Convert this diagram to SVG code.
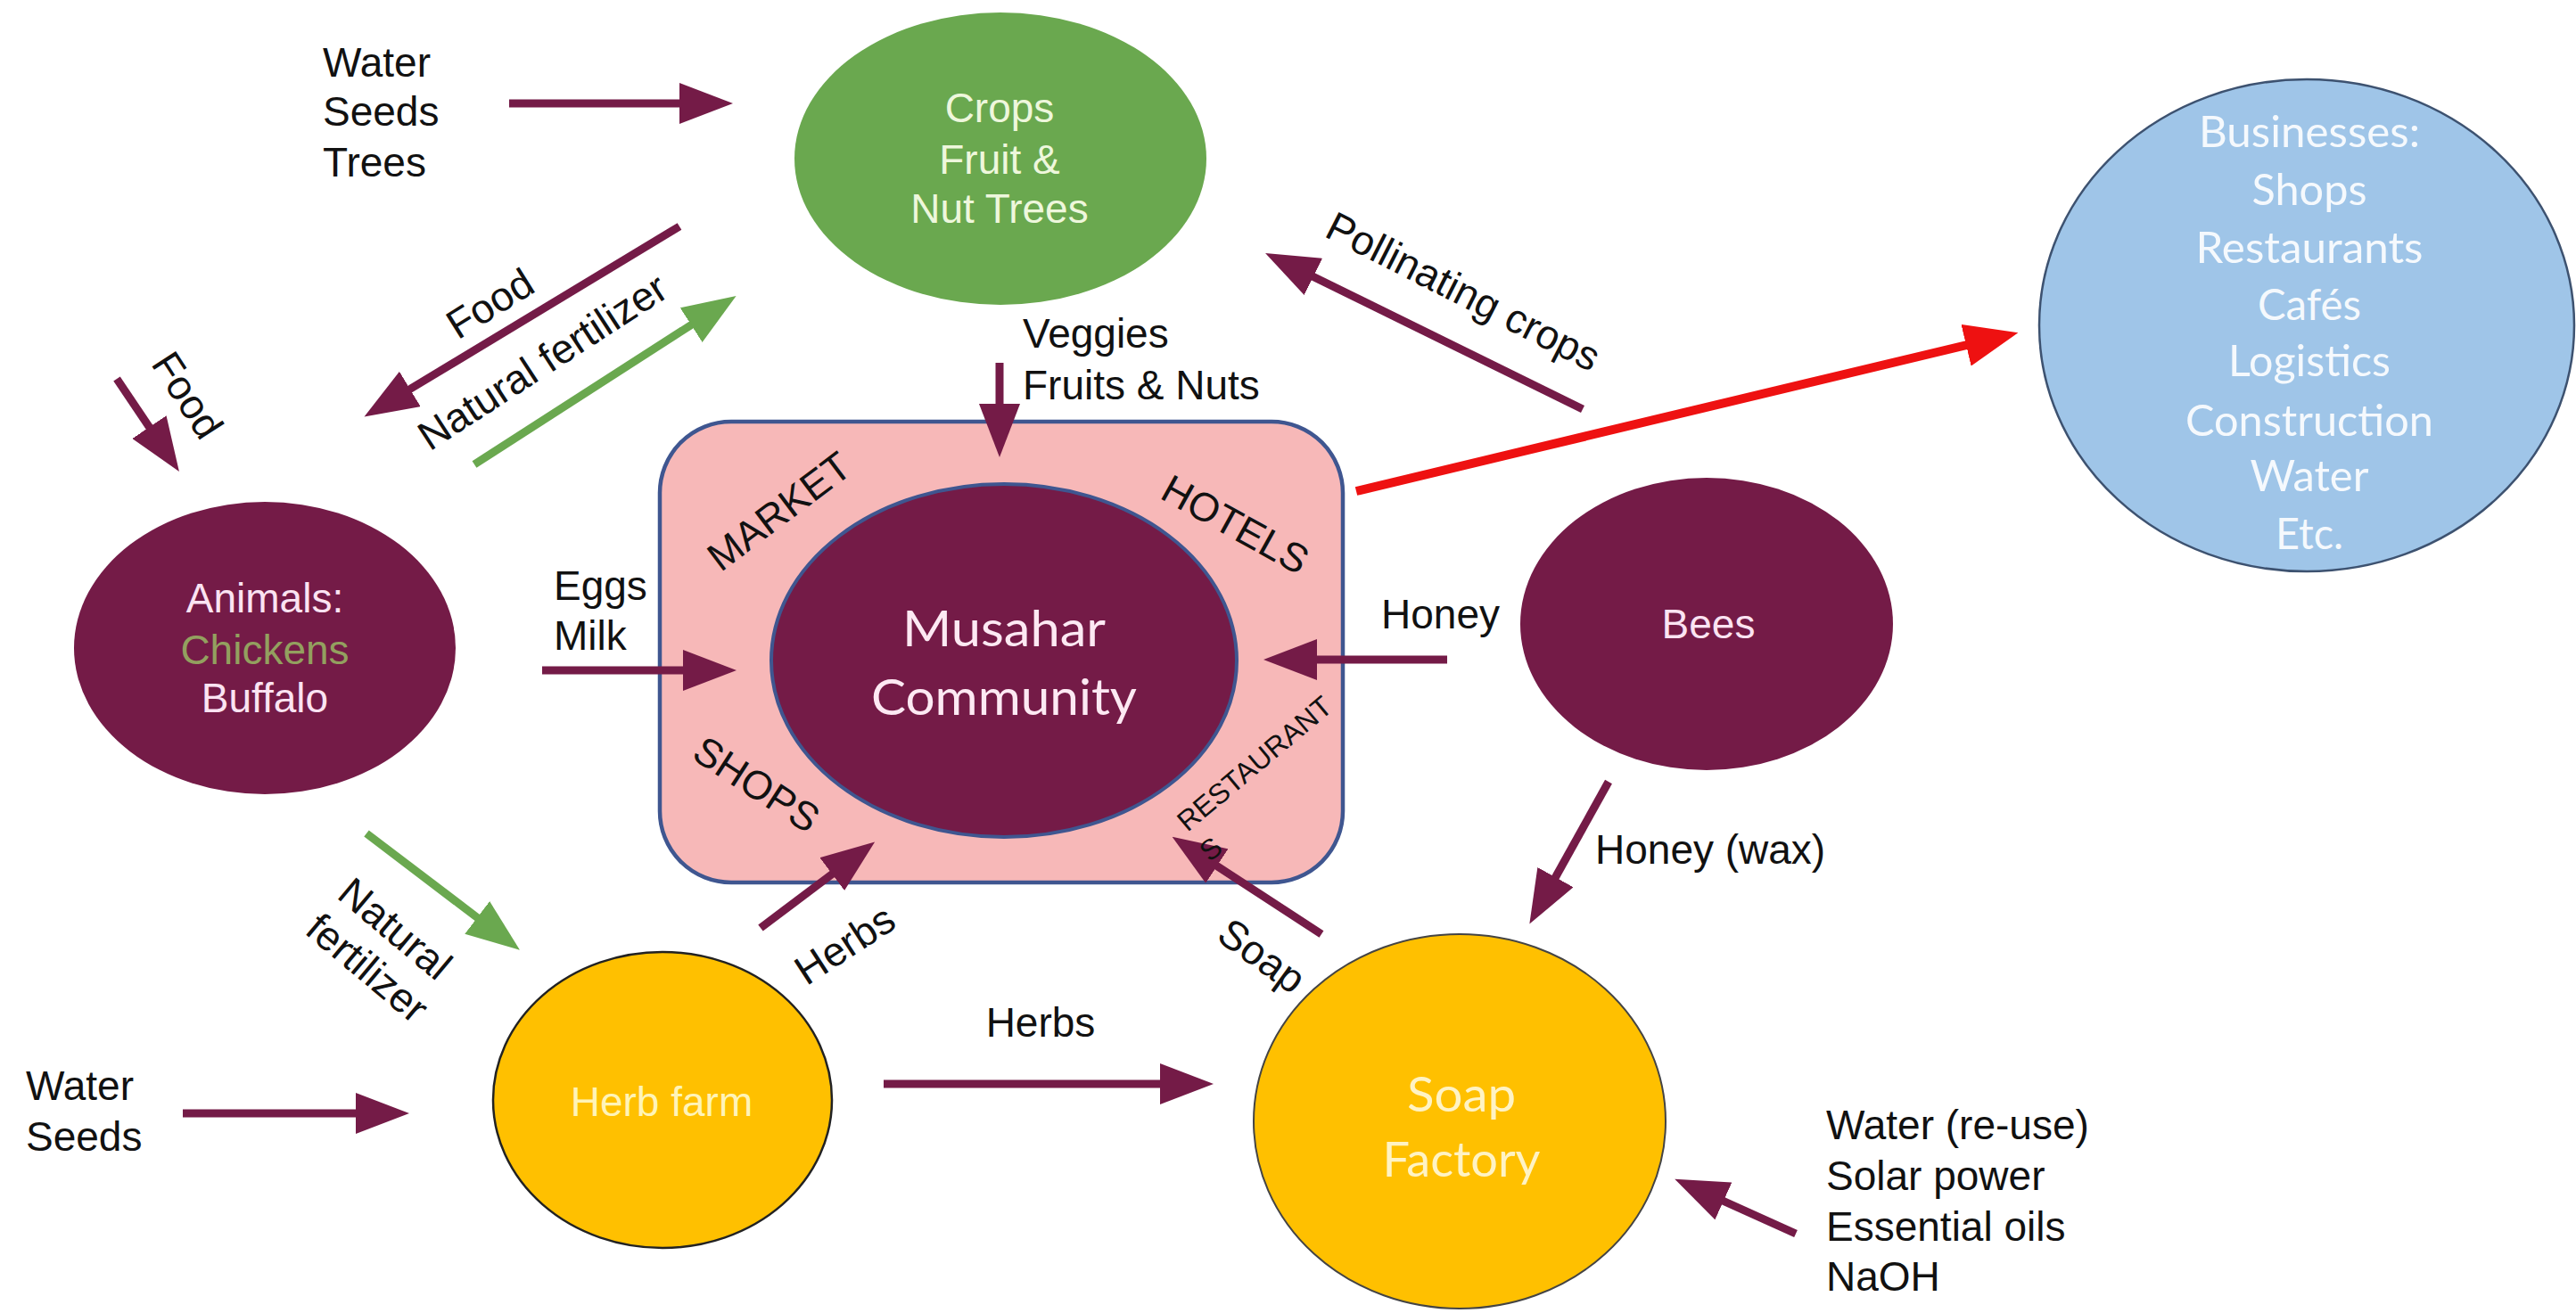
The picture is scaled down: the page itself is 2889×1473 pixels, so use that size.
<svg xmlns="http://www.w3.org/2000/svg" width="2889" height="1473" viewBox="0 0 2889 1473">
<style>
  .lbl { font-family: "Liberation Sans", Arial, sans-serif; font-size: 46px; }
  .dark { fill: #111; }
  .box { font-family: "Liberation Sans", Arial, sans-serif; font-size: 45px; fill: #111; }
  .cal { font-family: Lato, "Open Sans", sans-serif; }
  .mid { text-anchor: middle; }
  .ap { stroke: #741b47; stroke-width: 9; fill: none; marker-end: url(#hp); }
  .ag { stroke: #6aa84f; stroke-width: 9; fill: none; marker-end: url(#hg); }
  .ar { stroke: #ee1111; stroke-width: 10; fill: none; marker-end: url(#hr); }
</style>
<defs>
  <marker id="hp" markerUnits="userSpaceOnUse" markerWidth="60" markerHeight="46" viewBox="0 0 60 46" refX="1" refY="23" orient="auto"><path d="M0,0 L60,23 L0,46 z" fill="#741b47"/></marker>
  <marker id="hg" markerUnits="userSpaceOnUse" markerWidth="60" markerHeight="46" viewBox="0 0 60 46" refX="1" refY="23" orient="auto"><path d="M0,0 L60,23 L0,46 z" fill="#6aa84f"/></marker>
  <marker id="hr" markerUnits="userSpaceOnUse" markerWidth="60" markerHeight="48" viewBox="0 0 60 48" refX="1" refY="24" orient="auto"><path d="M0,0 L60,24 L0,48 z" fill="#ee1111"/></marker>
</defs>
<rect width="2889" height="1473" fill="#ffffff"/>

<g id="musahar-box">
  <rect x="740" y="473" width="766" height="517" rx="80" ry="80" fill="#f7b8b8" stroke="#3f5690" stroke-width="4.5"/>
</g>

<g id="musahar">
  <ellipse cx="1126" cy="741" rx="261" ry="198" fill="#741b47" stroke="#3f5690" stroke-width="4"/>
  <text class="cal mid" x="1126" y="725" font-size="57" fill="#fde9f3" textLength="228" lengthAdjust="spacingAndGlyphs">Musahar</text>
  <text class="cal mid" x="1126" y="802" font-size="57" fill="#fde9f3" textLength="298" lengthAdjust="spacingAndGlyphs">Community</text>
</g>

<g id="crops">
  <ellipse cx="1122" cy="178" rx="231" ry="164" fill="#6aa84f"/>
  <g class="lbl mid" fill="#eef7dc">
    <text x="1121" y="137">Crops</text>
    <text x="1121" y="195">Fruit &amp;</text>
    <text x="1121" y="250">Nut Trees</text>
  </g>
</g>

<g id="animals">
  <ellipse cx="297" cy="727" rx="214" ry="164" fill="#741b47"/>
  <text class="lbl mid" x="297" y="687" fill="#fbe3f2">Animals:</text>
  <text class="lbl mid" x="297" y="745" fill="#93a05f">Chickens</text>
  <text class="lbl mid" x="297" y="799" fill="#fbe3f2">Buffalo</text>
</g>

<g id="bees">
  <ellipse cx="1914" cy="700" rx="209" ry="164" fill="#741b47"/>
  <text class="lbl mid" x="1916" y="716" fill="#fbe3f2">Bees</text>
</g>

<g id="businesses">
  <ellipse cx="2587" cy="365" rx="300" ry="276" fill="#9fc5e8" stroke="#3d5270" stroke-width="2.5"/>
  <g class="cal mid" font-size="48" fill="#f5f9fd">
    <text x="2590" y="165" textLength="248" lengthAdjust="spacingAndGlyphs">Businesses:</text>
    <text x="2590" y="230" textLength="129" lengthAdjust="spacingAndGlyphs">Shops</text>
    <text x="2590" y="295" textLength="255" lengthAdjust="spacingAndGlyphs">Restaurants</text>
    <text x="2590" y="359" textLength="116" lengthAdjust="spacingAndGlyphs">Cafés</text>
    <text x="2590" y="422" textLength="182" lengthAdjust="spacingAndGlyphs">Logistics</text>
    <text x="2590" y="489" textLength="278" lengthAdjust="spacingAndGlyphs">Construction</text>
    <text x="2590" y="551" textLength="133" lengthAdjust="spacingAndGlyphs">Water</text>
    <text x="2590" y="616" textLength="76" lengthAdjust="spacingAndGlyphs">Etc.</text>
  </g>
</g>

<g id="herb-farm">
  <ellipse cx="743" cy="1234" rx="190" ry="166" fill="#ffc000" stroke="#222" stroke-width="2.5"/>
  <text class="lbl mid" x="742" y="1252" fill="#fff4b8">Herb farm</text>
</g>

<g id="soap-factory">
  <ellipse cx="1637" cy="1258" rx="231" ry="210" fill="#ffc000" stroke="#444" stroke-width="2"/>
  <text class="cal mid" x="1639" y="1247" font-size="54" fill="#fff3c4" textLength="122" lengthAdjust="spacingAndGlyphs">Soap</text>
  <text class="cal mid" x="1639" y="1320" font-size="54" fill="#fff3c4" textLength="177" lengthAdjust="spacingAndGlyphs">Factory</text>
</g>

<g id="inputs" class="lbl dark">
  <text x="362" y="86">Water</text>
  <text x="362" y="141">Seeds</text>
  <text x="362" y="198">Trees</text>
  <text x="29" y="1234">Water</text>
  <text x="29" y="1291">Seeds</text>
  <text x="2048" y="1278">Water (re-use)</text>
  <text x="2048" y="1335">Solar power</text>
  <text x="2048" y="1392">Essential oils</text>
  <text x="2048" y="1448">NaOH</text>
</g>

<g id="connectors">
  <line class="ap" x1="571" y1="116" x2="763" y2="116"/>
  <line class="ap" x1="762" y1="254" x2="459" y2="437"/>
  <line class="ag" x1="532" y1="521" x2="776" y2="364"/>
  <line class="ap" x1="131" y1="425" x2="168" y2="480"/>
  <line class="ap" x1="1121" y1="407" x2="1121" y2="454"/>
  <line class="ap" x1="1775" y1="459" x2="1472" y2="310"/>
  <line class="ar" x1="1521" y1="551" x2="2206" y2="387"/>
  <line class="ap" x1="608" y1="752" x2="767" y2="752"/>
  <line class="ap" x1="1623" y1="740" x2="1476" y2="740"/>
  <line class="ap" x1="1804" y1="877" x2="1744" y2="985"/>
  <line class="ap" x1="853" y1="1041" x2="934" y2="980"/>
  <line class="ap" x1="1482" y1="1048" x2="1364" y2="971"/>
  <line class="ag" x1="411" y1="935" x2="536" y2="1030"/>
  <line class="ap" x1="205" y1="1249" x2="400" y2="1249"/>
  <line class="ap" x1="991" y1="1216" x2="1302" y2="1216"/>
  <line class="ap" x1="2014" y1="1384" x2="1932" y2="1347"/>
</g>

<g id="musahar-box-labels">
  <text class="box mid" transform="translate(883,586) rotate(-37)">MARKET</text>
  <text class="box mid" transform="translate(1378,602) rotate(29)">HOTELS</text>
  <text class="box mid" transform="translate(840,893) rotate(33)">SHOPS</text>
  <text class="box mid" style="font-size:32px" transform="translate(1414,865) rotate(-40)">RESTAURANT</text>
  <text class="box mid" style="font-size:32px" transform="translate(1365,961) rotate(-40)">S</text>
</g>

<g id="connector-labels" class="lbl dark">
  <text class="mid" transform="translate(558,354) rotate(-32)">Food</text>
  <text class="mid" transform="translate(617,419) rotate(-33)">Natural fertilizer</text>
  <text class="mid" transform="translate(197,452) rotate(57)">Food</text>
  <text x="1147" y="390">Veggies</text>
  <text x="1147" y="448">Fruits &amp; Nuts</text>
  <text class="mid" transform="translate(1634,341) rotate(27)">Pollinating crops</text>
  <text x="621" y="673">Eggs</text>
  <text x="621" y="729">Milk</text>
  <text x="1549" y="705">Honey</text>
  <text x="1789" y="969">Honey (wax)</text>
  <text class="mid" transform="translate(956,1073) rotate(-33)">Herbs</text>
  <text class="mid" transform="translate(1406,1085) rotate(36)">Soap</text>
  <text class="mid" transform="translate(433,1054) rotate(40)">Natural</text>
  <text class="mid" transform="translate(402,1098) rotate(40)">fertilizer</text>
  <text class="mid" x="1167" y="1163">Herbs</text>
</g>
</svg>
